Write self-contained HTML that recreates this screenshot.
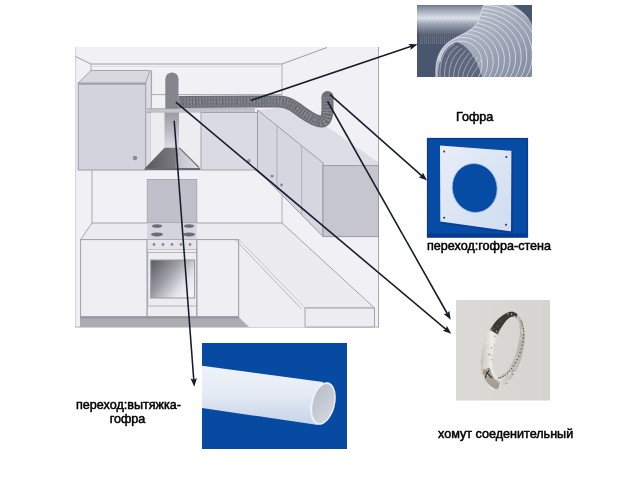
<!DOCTYPE html>
<html><head><meta charset="utf-8">
<style>
html,body{margin:0;padding:0;background:#fff;width:640px;height:480px;overflow:hidden}
svg{position:absolute;left:0;top:0}
.t{position:absolute;font-family:"Liberation Sans",sans-serif;font-size:12.6px;color:#111;white-space:nowrap;line-height:13.5px;-webkit-text-stroke:0.5px #000;color:#000;will-change:transform}
</style></head><body>
<svg width="640" height="480" viewBox="0 0 640 480">
<defs>
  <linearGradient id="hood" x1="0" y1="0" x2="1" y2="0">
    <stop offset="0" stop-color="#58585f"/><stop offset="0.55" stop-color="#7a7a82"/><stop offset="0.62" stop-color="#c4c4cc"/><stop offset="1" stop-color="#e2e2e8"/>
  </linearGradient>
  <linearGradient id="oven" x1="0" y1="0" x2="1" y2="0.7">
    <stop offset="0" stop-color="#58585f"/><stop offset="0.45" stop-color="#9c9ca4"/><stop offset="0.8" stop-color="#e2e2e8"/><stop offset="1" stop-color="#f2f2f6"/>
  </linearGradient>
  <linearGradient id="chim" x1="0" y1="0" x2="0" y2="1">
    <stop offset="0" stop-color="#9a9aa2"/><stop offset="1" stop-color="#dadae0"/>
  </linearGradient>
<linearGradient id="gofU" x1="0" y1="0" x2="0" y2="1">
 <stop offset="0" stop-color="#6a7284"/><stop offset="0.18" stop-color="#a8aebe"/><stop offset="0.33" stop-color="#dadee8"/><stop offset="0.5" stop-color="#8e96a8"/><stop offset="0.75" stop-color="#4a5266"/><stop offset="1" stop-color="#4a546c"/>
</linearGradient>
<linearGradient id="gofB" x1="0" y1="0" x2="1" y2="1">
 <stop offset="0" stop-color="#c2c8d4"/><stop offset="0.5" stop-color="#a4abbc"/><stop offset="1" stop-color="#808a9e"/>
</linearGradient>
<linearGradient id="plateG" x1="0" y1="0" x2="1" y2="1">
 <stop offset="0" stop-color="#e8eef8"/><stop offset="1" stop-color="#cfdcf0"/>
</linearGradient>
<linearGradient id="pipeG" x1="0" y1="0" x2="0" y2="1">
 <stop offset="0" stop-color="#eef2fa"/><stop offset="0.5" stop-color="#e4eaf4"/><stop offset="1" stop-color="#c6d2e8"/>
</linearGradient>
<linearGradient id="clampBg" x1="0" y1="0" x2="1" y2="0">
 <stop offset="0" stop-color="#dcdad6"/><stop offset="1" stop-color="#d6d4d0"/>
</linearGradient>
<linearGradient id="ringG" x1="0" y1="0" x2="1" y2="0">
 <stop offset="0" stop-color="#b4aea6"/><stop offset="0.28" stop-color="#eeece8"/><stop offset="0.55" stop-color="#cdc8c2"/><stop offset="1" stop-color="#aaa49c"/>
</linearGradient>
<clipPath id="clipG"><rect x="417" y="5" width="115" height="72"/></clipPath>
<clipPath id="clipC"><rect x="456" y="300" width="94" height="100.5"/></clipPath>
<clipPath id="clipP"><rect x="202" y="343" width="145" height="106"/></clipPath>
<linearGradient id="pipeIn" x1="0" y1="0" x2="1" y2="1"><stop offset="0" stop-color="#b8bcc6"/><stop offset="1" stop-color="#d4d8e0"/></linearGradient>
<clipPath id="clipBig"><path d="M436,77 C435,60 439,48 452,40 C464,33 474,30 478,22 C481,14 482,8 484,5 L513,5 C522,10 532,20 533,28 L532,77 Z"/></clipPath>

</defs>
<!-- kitchen picture -->
<rect x="75" y="47" width="304" height="280.5" fill="#f1f1f5"/><line x1="378.5" y1="47" x2="378.5" y2="327.5" stroke="#a8a8b0" stroke-width="1"/><line x1="75.7" y1="47" x2="75.7" y2="327.5" stroke="#d0d0d8" stroke-width="1"/><line x1="75" y1="327" x2="379" y2="327" stroke="#b0b0b8" stroke-width="1"/>
<!-- ceiling lines -->
<polyline points="75.5,56.5 91,64 282,64 327,47.5" fill="none" stroke="#9c9ca6" stroke-width="1"/>
<line x1="91" y1="64" x2="91" y2="70.5" stroke="#a8a8b0" stroke-width="1"/>
<line x1="282" y1="64" x2="282" y2="105" stroke="#b0b0b8" stroke-width="1"/>
<!-- back wall soffit outline -->
<line x1="91" y1="66.5" x2="282" y2="66.5" stroke="#d8d8de" stroke-width="0.8"/>
<polyline points="151.6,70.5 151.6,94.6 282,94.6" fill="none" stroke="#a8a8b2" stroke-width="1"/>
<!-- left upper cabinet -->
<polygon points="91,70.5 150,70.5 145.7,83 78.2,83" fill="#d8d8e0"/>
<polygon points="145.7,83 150,70.5 151.3,70.5 151.3,168 145.7,170" fill="#dcdce4"/><line x1="151.3" y1="70.5" x2="151.3" y2="170" stroke="#a0a0aa" stroke-width="1"/>
<rect x="78.2" y="83" width="67.5" height="87" fill="#d3d3de" stroke="#9a9aa4" stroke-width="1"/>
<line x1="78.2" y1="84" x2="145.7" y2="84" stroke="#9c9ca6" stroke-width="1.5"/>
<polyline points="78.2,83 91,70.5 150,70.5 145.7,83" fill="none" stroke="#a4a4ae" stroke-width="1"/>
<circle cx="135" cy="158" r="2.2" fill="#8a8a92"/>
<!-- shelf band -->
<rect x="147" y="108.5" width="108" height="4" fill="#c4c4cc"/><line x1="147" y1="108.7" x2="255" y2="108.7" stroke="#a4a4ac" stroke-width="0.8"/><line x1="147" y1="112.4" x2="255" y2="112.4" stroke="#9a9aa4" stroke-width="0.8"/>
<!-- hood recess bg -->
<rect x="151" y="112.5" width="50" height="57" fill="#ececf1"/>
<!-- chimney upper -->
<path d="M165.3,108.8 L165.3,79 A6.6,6.6 0 0 1 178.5,79 L178.5,108.8 Z" fill="#85858e"/>
<!-- chimney lower -->
<rect x="164.5" y="112.5" width="14.5" height="35.5" fill="url(#chim)"/>
<!-- hood -->
<polygon points="164.5,147.8 179.4,147.8 200,168.5 144.7,168.5" fill="url(#hood)"/>
<rect x="144.7" y="168" width="55.5" height="2.2" fill="#6a6a74"/><line x1="179.4" y1="147.8" x2="199" y2="167.5" stroke="#707078" stroke-width="1.2"/>
<!-- back wall upper cabinets right of hood -->
<rect x="201" y="112.5" width="56.5" height="57.5" fill="#dadae3" stroke="#a4a4ae" stroke-width="1"/>

<circle cx="248.8" cy="161" r="2" fill="#9a9aa4"/>
<!-- right wall upper cabinets sloped -->
<polygon points="257.5,110 300,106 326,126 378,162 378,165.6 323,165.6 323,163" fill="#dcdce5"/>
<polygon points="257.5,110 323,163 323,236.5 257.5,170" fill="#d6d6e0" stroke="#9c9ca6" stroke-width="1"/>

<line x1="277" y1="126" x2="277" y2="190" stroke="#a4a4ae" stroke-width="0.8"/>
<line x1="301.7" y1="146" x2="301.7" y2="215" stroke="#a4a4ae" stroke-width="0.8"/>
<circle cx="272" cy="176" r="1.6" fill="#8a8a94"/>
<circle cx="281.5" cy="185" r="1.4" fill="#8a8a94"/>
<!-- end cabinet -->
<rect x="323" y="165.6" width="55.5" height="71" fill="#c6c6ce" stroke="#9a9aa4" stroke-width="1"/>
<!-- hose -->
<path d="M178.5,102 L278,101.5 C290,101.5 296,108 304,113.5 C312,119 318,122 322,121.5 C327,121 327.5,114 327.5,108 L327.5,97" fill="none" stroke="#6e6e76" stroke-width="12"/><circle cx="327.5" cy="97" r="6" fill="#707078"/>
<path d="M178.5,102 L278,101.5 C290,101.5 296,108 304,113.5 C312,119 318,122 322,121.5 C327,121 327.5,114 327.5,108 L327.5,97" fill="none" stroke="#a6a6ae" stroke-width="9" stroke-dasharray="1.2 1.8" opacity="0.55"/>
<path d="M178.5,102 L278,101.5 C290,101.5 296,108 304,113.5 C312,119 318,122 322,121.5 C327,121 327.5,114 327.5,108 L327.5,97" fill="none" stroke="#4e4e56" stroke-width="6" stroke-dasharray="0.8 2.6 1.4 1.9" opacity="0.35"/>
<path d="M178.5,102 L278,101.5 C290,101.5 296,108 304,113.5 C312,119 318,122 322,121.5 C327,121 327.5,114 327.5,108 L327.5,97" fill="none" stroke="#9c9ca4" stroke-width="2" stroke-dasharray="2 3 1 4" opacity="0.5"/>
<!-- back wall lower area -->
<line x1="92" y1="170" x2="92" y2="223.5" stroke="#a8a8b2" stroke-width="1"/>
<line x1="282" y1="195" x2="282" y2="223" stroke="#b0b0b8" stroke-width="1"/>
<!-- backsplash -->
<rect x="147.2" y="179.5" width="49.6" height="43.5" fill="#c0c0ca" stroke="#a0a0aa" stroke-width="0.8"/>
<!-- countertop -->
<polygon points="92,223 282,223 374.5,308 305,308 238.7,239.6 80.6,239.6" fill="#ebebf0" stroke="#a4a4ae" stroke-width="1"/>
<!-- cooktop -->
<rect x="147.2" y="223" width="49.6" height="16.6" fill="#d4d4dc"/>
<ellipse cx="157" cy="226" rx="5" ry="1.8" fill="#6c6c76"/>
<ellipse cx="157" cy="234.4" rx="6" ry="2" fill="#6c6c76"/>
<ellipse cx="189" cy="226" rx="5" ry="1.8" fill="#6c6c76"/>
<ellipse cx="189" cy="234.4" rx="6" ry="2" fill="#6c6c76"/>
<!-- lower cabinets -->
<rect x="80.6" y="239.6" width="66.6" height="77" fill="#eeeef3" stroke="#a0a0aa" stroke-width="1"/>
<rect x="147.2" y="239.6" width="49.6" height="77" fill="#ececf1" stroke="#9c9ca6" stroke-width="1"/>
<rect x="147.2" y="239.6" width="49.6" height="10" fill="#e4e4ea" stroke="#a8a8b2" stroke-width="0.6"/>
<circle cx="154" cy="244.5" r="1.4" fill="#8a8a94"/><circle cx="163" cy="244.5" r="1.4" fill="#8a8a94"/><circle cx="172" cy="244.5" r="1.4" fill="#8a8a94"/><circle cx="181" cy="244.5" r="1.4" fill="#8a8a94"/><circle cx="190" cy="244.5" r="1.4" fill="#8a8a94"/>
<rect x="147.8" y="252.5" width="50.5" height="53.5" fill="none" stroke="#a8a8b2" stroke-width="0.8"/><rect x="150.7" y="260" width="43.9" height="38" fill="url(#oven)" stroke="#9a9aa4" stroke-width="1"/>
<rect x="197" y="239.6" width="41.7" height="77" fill="#eeeef3" stroke="#a0a0aa" stroke-width="1"/>
<!-- right wall lower cabinets -->
<polygon points="238.7,239.6 305,308 305,327 238.7,327" fill="#eeeef2"/><polyline points="238.7,239.6 238.7,317" fill="none" stroke="#a0a0aa" stroke-width="1"/><polyline points="235.5,240 301.5,309" fill="none" stroke="#a8a8b0" stroke-width="0.8"/>
<polygon points="305,308 374.5,308 374.5,327 305,327" fill="#ececf1" stroke="#a4a4ae" stroke-width="1"/>
<!-- plinth -->
<polygon points="80,317  238.7,317 249,327 80,327" fill="#acacb5"/>
<rect x="80" y="316.8" width="159" height="1.6" fill="#9494a0"/>
<!-- gofra photo -->
<g clip-path="url(#clipG)">
<rect x="417" y="5" width="115" height="72" fill="#4a5570"/>
<rect x="417" y="5" width="90" height="39.5" fill="url(#gofU)"/>
<g stroke="#e4e8f0" stroke-width="0.6" opacity="0.35"><line x1="419" y1="6" x2="420.5" y2="44"/><line x1="421" y1="6" x2="422.5" y2="44"/><line x1="423" y1="6" x2="424.5" y2="44"/><line x1="425" y1="6" x2="426.5" y2="44"/><line x1="427" y1="6" x2="428.5" y2="44"/><line x1="429" y1="6" x2="430.5" y2="44"/><line x1="431" y1="6" x2="432.5" y2="44"/><line x1="433" y1="6" x2="434.5" y2="44"/><line x1="435" y1="6" x2="436.5" y2="44"/><line x1="437" y1="6" x2="438.5" y2="44"/><line x1="439" y1="6" x2="440.5" y2="44"/><line x1="441" y1="6" x2="442.5" y2="44"/><line x1="443" y1="6" x2="444.5" y2="44"/><line x1="445" y1="6" x2="446.5" y2="44"/><line x1="447" y1="6" x2="448.5" y2="44"/><line x1="449" y1="6" x2="450.5" y2="44"/><line x1="451" y1="6" x2="452.5" y2="44"/><line x1="453" y1="6" x2="454.5" y2="44"/><line x1="455" y1="6" x2="456.5" y2="44"/><line x1="457" y1="6" x2="458.5" y2="44"/><line x1="459" y1="6" x2="460.5" y2="44"/><line x1="461" y1="6" x2="462.5" y2="44"/><line x1="463" y1="6" x2="464.5" y2="44"/><line x1="465" y1="6" x2="466.5" y2="44"/><line x1="467" y1="6" x2="468.5" y2="44"/><line x1="469" y1="6" x2="470.5" y2="44"/><line x1="471" y1="6" x2="472.5" y2="44"/><line x1="473" y1="6" x2="474.5" y2="44"/><line x1="475" y1="6" x2="476.5" y2="44"/><line x1="477" y1="6" x2="478.5" y2="44"/><line x1="479" y1="6" x2="480.5" y2="44"/><line x1="481" y1="6" x2="482.5" y2="44"/><line x1="483" y1="6" x2="484.5" y2="44"/><line x1="485" y1="6" x2="486.5" y2="44"/><line x1="487" y1="6" x2="488.5" y2="44"/><line x1="489" y1="6" x2="490.5" y2="44"/><line x1="491" y1="6" x2="492.5" y2="44"/><line x1="493" y1="6" x2="494.5" y2="44"/><line x1="495" y1="6" x2="496.5" y2="44"/><line x1="497" y1="6" x2="498.5" y2="44"/><line x1="499" y1="6" x2="500.5" y2="44"/></g>
<path d="M436,77 C435,60 439,48 452,40 C464,33 474,30 478,22 C481,14 482,8 484,5 L513,5 C522,10 532,20 533,28 L532,77 Z" fill="url(#gofB)"/>
<path d="M438,77 C438,60 444,47 456,42 C466,44 476,56 482,77 Z" fill="#5e667c"/>
<g clip-path="url(#clipBig)" fill="none" stroke="#eef1f7" stroke-width="0.9" opacity="0.75"><path d="M440.1,62.0 L440.6,58.5 L441.7,55.0 L443.2,51.9 L445.1,49.0 L447.4,46.4 L450.1,44.3 L453.0,42.7 L456.2,41.6 L459.4,41.1 L462.7,41.1 L465.9,41.6 L469.0,42.8 L472.0,44.4 L474.6,46.5 L476.9,49.0 L478.9,51.9 L480.4,55.1 L481.4,58.5 L481.9,62.1 L481.9,65.7 L481.5,69.2 L480.5,72.6 L479.0,75.9 L477.1,78.8"/><path d="M438.9,60.8 L439.5,56.8 L440.7,53.0 L442.5,49.5 L444.7,46.3 L447.4,43.4 L450.5,41.1 L453.9,39.3 L457.6,38.1 L461.3,37.5 L465.1,37.5 L468.9,38.1 L472.5,39.3 L475.9,41.2 L479.0,43.5 L481.7,46.3 L484.0,49.6 L485.7,53.1 L486.9,56.9 L487.5,60.9 L487.5,64.9 L487.0,68.8 L485.8,72.6 L484.1,76.2 L481.9,79.5"/><path d="M437.7,59.5 L438.4,55.2 L439.8,51.0 L441.8,47.1 L444.4,43.6 L447.5,40.5 L451.0,37.9 L454.9,35.9 L459.0,34.6 L463.3,33.9 L467.6,33.9 L471.9,34.6 L476.0,35.9 L479.9,37.9 L483.4,40.5 L486.5,43.6 L489.1,47.2 L491.0,51.1 L492.4,55.3 L493.1,59.6 L493.1,64.0 L492.5,68.4 L491.2,72.6 L489.2,76.5 L486.7,80.1"/><path d="M436.5,58.3 L437.3,53.6 L438.9,49.0 L441.1,44.7 L444.0,40.9 L447.5,37.5 L451.4,34.7 L455.8,32.5 L460.4,31.0 L465.2,30.3 L470.1,30.3 L474.9,31.1 L479.5,32.5 L483.9,34.7 L487.8,37.6 L491.3,40.9 L494.2,44.8 L496.4,49.1 L497.9,53.7 L498.7,58.4 L498.7,63.2 L498.0,68.0 L496.5,72.6 L494.3,76.9 L491.5,80.8"/><path d="M435.3,57.1 L436.2,51.9 L437.9,47.0 L440.4,42.4 L443.6,38.2 L447.5,34.5 L451.9,31.4 L456.7,29.1 L461.8,27.5 L467.2,26.7 L472.6,26.7 L477.9,27.5 L483.0,29.1 L487.9,31.5 L492.2,34.6 L496.1,38.3 L499.2,42.5 L501.7,47.1 L503.4,52.1 L504.3,57.2 L504.3,62.4 L503.5,67.6 L501.9,72.6 L499.4,77.2 L496.3,81.5"/><path d="M434.1,55.9 L435.1,50.3 L437.0,45.0 L439.7,40.0 L443.2,35.5 L447.5,31.5 L452.3,28.2 L457.6,25.7 L463.2,24.0 L469.1,23.1 L475.0,23.1 L480.9,24.0 L486.5,25.7 L491.8,28.3 L496.6,31.6 L500.8,35.6 L504.3,40.1 L507.1,45.1 L508.9,50.4 L509.9,56.0 L509.9,61.6 L509.0,67.2 L507.2,72.5 L504.6,77.6 L501.1,82.1"/><path d="M433.0,54.6 L434.0,48.7 L436.1,43.0 L439.0,37.6 L442.9,32.8 L447.5,28.5 L452.7,25.0 L458.5,22.3 L464.7,20.4 L471.0,19.5 L477.5,19.5 L483.9,20.5 L490.0,22.3 L495.8,25.1 L501.0,28.6 L505.6,32.9 L509.4,37.7 L512.4,43.1 L514.4,48.8 L515.5,54.8 L515.5,60.8 L514.5,66.8 L512.6,72.5 L509.7,77.9 L505.9,82.8"/><path d="M431.8,53.4 L432.9,47.1 L435.1,41.0 L438.4,35.2 L442.5,30.1 L447.5,25.5 L453.2,21.8 L459.4,18.9 L466.1,16.9 L473.0,15.9 L480.0,15.9 L486.9,16.9 L493.5,18.9 L499.8,21.9 L505.4,25.6 L510.4,30.2 L514.5,35.4 L517.7,41.1 L519.9,47.2 L521.0,53.6 L521.1,60.0 L520.0,66.4 L517.9,72.5 L514.8,78.2 L510.7,83.5"/><path d="M430.6,52.2 L431.8,45.4 L434.2,38.9 L437.7,32.9 L442.1,27.4 L447.5,22.5 L453.6,18.6 L460.3,15.5 L467.5,13.4 L474.9,12.3 L482.5,12.3 L489.9,13.4 L497.0,15.5 L503.8,18.6 L509.9,22.7 L515.2,27.5 L519.6,33.0 L523.1,39.1 L525.4,45.6 L526.6,52.3 L526.7,59.2 L525.5,65.9 L523.3,72.5 L519.9,78.6 L515.5,84.2"/><path d="M429.4,51.0 L430.7,43.8 L433.3,36.9 L437.0,30.5 L441.8,24.7 L447.5,19.6 L454.0,15.3 L461.2,12.1 L468.9,9.9 L476.9,8.7 L484.9,8.7 L492.9,9.9 L500.5,12.1 L507.7,15.4 L514.3,19.7 L520.0,24.8 L524.7,30.6 L528.4,37.1 L530.9,44.0 L532.2,51.1 L532.3,58.4 L531.1,65.5 L528.6,72.4 L525.0,78.9 L520.3,84.8"/><path d="M428.2,49.7 L429.6,42.2 L432.3,34.9 L436.3,28.1 L441.4,22.0 L447.5,16.6 L454.5,12.1 L462.1,8.7 L470.3,6.3 L478.8,5.1 L487.4,5.2 L495.9,6.4 L504.0,8.7 L511.7,12.2 L518.7,16.7 L524.7,22.1 L529.8,28.3 L533.7,35.1 L536.4,42.4 L537.8,49.9 L537.9,57.6 L536.6,65.1 L534.0,72.4 L530.1,79.3 L525.1,85.5"/><path d="M427.0,48.5 L428.5,40.6 L431.4,32.9 L435.6,25.8 L441.0,19.3 L447.5,13.6 L454.9,8.9 L463.0,5.3 L471.7,2.8 L480.7,1.6 L489.9,1.6 L498.9,2.8 L507.5,5.3 L515.7,9.0 L523.1,13.7 L529.5,19.4 L534.9,25.9 L539.1,33.1 L541.9,40.7 L543.4,48.7 L543.4,56.7 L542.1,64.7 L539.3,72.4 L535.2,79.6 L529.9,86.2"/><path d="M425.8,47.3 L427.4,38.9 L430.5,30.9 L434.9,23.4 L440.6,16.6 L447.5,10.6 L455.3,5.7 L464.0,1.9 L473.1,-0.7 L482.7,-2.0 L492.3,-2.0 L501.9,-0.7 L511.0,1.9 L519.7,5.8 L527.5,10.7 L534.3,16.7 L540.0,23.5 L544.4,31.1 L547.4,39.1 L549.0,47.5 L549.0,55.9 L547.6,64.3 L544.7,72.4 L540.3,79.9 L534.7,86.8"/><path d="M424.6,46.0 L426.3,37.3 L429.5,28.9 L434.2,21.0 L440.3,13.9 L447.5,7.6 L455.8,2.4 L464.9,-1.6 L474.6,-4.3 L484.6,-5.6 L494.8,-5.6 L504.9,-4.2 L514.6,-1.5 L523.6,2.5 L531.9,7.8 L539.1,14.0 L545.1,21.2 L549.7,29.1 L552.9,37.5 L554.6,46.3 L554.6,55.1 L553.1,63.9 L550.0,72.4 L545.5,80.3 L539.5,87.5"/><path d="M423.5,44.8 L425.2,35.7 L428.6,26.9 L433.5,18.6 L439.9,11.2 L447.5,4.6 L456.2,-0.8 L465.8,-5.0 L476.0,-7.8 L486.6,-9.2 L497.3,-9.2 L507.9,-7.7 L518.1,-4.9 L527.6,-0.7 L536.3,4.8 L543.9,11.3 L550.2,18.8 L555.1,27.1 L558.4,35.9 L560.2,45.0 L560.2,54.3 L558.6,63.5 L555.4,72.3 L550.6,80.6 L544.4,88.2"/><path d="M422.3,43.6 L424.1,34.0 L427.7,24.9 L432.9,16.3 L439.5,8.5 L447.5,1.7 L456.6,-4.0 L466.7,-8.4 L477.4,-11.3 L488.5,-12.8 L499.8,-12.8 L510.9,-11.3 L521.6,-8.3 L531.6,-3.9 L540.7,1.8 L548.6,8.6 L555.3,16.5 L560.4,25.1 L563.9,34.3 L565.7,43.8 L565.8,53.5 L564.1,63.1 L560.7,72.3 L555.7,81.0 L549.2,88.9"/></g>
<g fill="none" stroke="#e8ecf4" stroke-width="0.8" opacity="0.6"><path d="M440.0,77 C439.5,62.0 443.0,50.0 454.0,44.0"/><path d="M444.5,77 C444.3,63.5 448.0,52.5 457.9,46.2"/><path d="M449.0,77 C449.1,65.0 453.0,55.0 461.8,48.4"/><path d="M453.5,77 C453.9,66.5 458.0,57.5 465.7,50.6"/><path d="M458.0,77 C458.7,68.0 463.0,60.0 469.6,52.8"/><path d="M462.5,77 C463.5,69.5 468.0,62.5 473.5,55.0"/><path d="M467.0,77 C468.3,71.0 473.0,65.0 477.4,57.2"/><path d="M471.5,77 C473.1,72.5 478.0,67.5 481.3,59.4"/></g>
<path d="M436,77 C435,60 439,48 452,40 C464,33 474,30 478,22 C481,14 482,8 484,5" fill="none" stroke="#dce0ea" stroke-width="1.2" opacity="0.7"/>
</g>
<!-- plate photo -->
<rect x="427" y="138" width="101" height="99.5" fill="#064ba4"/>
<rect x="427.5" y="138.5" width="100" height="98.5" fill="none" stroke="#093a8c" stroke-width="1.2"/>
<polygon points="441,147 513,152.5 513,233.5 441.5,223.5" fill="#08388a" opacity="0.6"/>
<rect x="427" y="233.5" width="101" height="3" fill="#083a8c"/>
<polygon points="440,145.5 511.4,150.8 511,231.3 440.3,221.4" fill="url(#plateG)"/>
<ellipse cx="474.7" cy="188" rx="22.4" ry="24.6" transform="rotate(-12 474.7 188)" fill="#064ba4" stroke="#a8bede" stroke-width="0.8"/>
<circle cx="444.2" cy="151.4" r="1" fill="#333"/><circle cx="506.4" cy="156.9" r="1" fill="#333"/><circle cx="444.2" cy="217.7" r="1" fill="#333"/><circle cx="506" cy="224.7" r="1" fill="#333"/>
<!-- pipe photo -->
<rect x="202" y="343" width="145" height="106" fill="#064aa2"/>
<polygon points="202,365.8 323,382 318,425 202,408" fill="url(#pipeG)"/>
<ellipse cx="323" cy="403.5" rx="12" ry="21.8" transform="rotate(14 323 403.5)" fill="#eef2f8"/>
<ellipse cx="323.3" cy="403.6" rx="10.3" ry="20" transform="rotate(14 323.3 403.6)" fill="url(#pipeIn)"/>
<!-- clamp photo -->
<rect x="456" y="300" width="94" height="100.5" fill="url(#clampBg)"/>
<defs><clipPath id="ringClip"><path fill-rule="evenodd" clip-rule="evenodd" d="M513.10,311.86 A20,40 15 1 0 492.40,389.14 A20,40 15 1 0 513.10,311.86 Z M514.49,316.79 A11.5,30.8 16 1 1 497.51,376.01 A11.5,30.8 16 1 1 514.49,316.79 Z"/></clipPath></defs>
<g clip-path="url(#ringClip)">
<rect x="476" y="308" width="56" height="84" fill="url(#ringG)"/>
<path d="M490,330 C496,318 506,311 518,310 L517,316 C509,318 502,325 497,334 Z" fill="#3e3834"/><path d="M497,334 C502,325 509,318 517,316 L516,320 C508,322 503,328 499,337 Z" fill="#6e6862"/>
<path d="M482,370 C484,380 490,388 498,390 L500,382 C495,380 492,376 490,368 Z" fill="#a8a096"/><path d="M486,372 l6,6 M489,370 l-4,8" stroke="#3a3430" stroke-width="1.2"/>
<g id="speck"><rect x="490.4" y="354.6" width="1" height="1" fill="#7a7268"/><rect x="525.6" y="348.9" width="1" height="1" fill="#5e5850"/><rect x="509.5" y="384.5" width="1" height="1" fill="#ffffff"/><rect x="491.5" y="329.2" width="1" height="1" fill="#ffffff"/><rect x="506.1" y="355.1" width="1" height="1" fill="#ffffff"/><rect x="511.2" y="322.4" width="1" height="1" fill="#f6f4f0"/><rect x="523.1" y="352.9" width="1" height="1" fill="#5e5850"/><rect x="512.9" y="315.3" width="1" height="1" fill="#5e5850"/><rect x="493.7" y="312.5" width="1" height="1" fill="#7a7268"/><rect x="502.6" y="368.9" width="1" height="1" fill="#ffffff"/><rect x="515.1" y="385.5" width="1" height="1" fill="#ffffff"/><rect x="515.9" y="357.3" width="1" height="1" fill="#f6f4f0"/><rect x="523.7" y="318.0" width="1" height="1" fill="#f6f4f0"/><rect x="503.7" y="331.2" width="1" height="1" fill="#ffffff"/><rect x="518.5" y="380.1" width="1" height="1" fill="#ffffff"/><rect x="504.4" y="341.6" width="1" height="1" fill="#7a7268"/><rect x="505.8" y="343.4" width="1" height="1" fill="#f6f4f0"/><rect x="525.0" y="365.9" width="1" height="1" fill="#5e5850"/><rect x="522.5" y="391.3" width="1" height="1" fill="#f6f4f0"/><rect x="514.3" y="336.8" width="1" height="1" fill="#5e5850"/><rect x="515.1" y="327.3" width="1" height="1" fill="#7a7268"/><rect x="492.8" y="315.2" width="1" height="1" fill="#ffffff"/><rect x="482.6" y="375.6" width="1" height="1" fill="#ffffff"/><rect x="524.6" y="311.7" width="1" height="1" fill="#ffffff"/><rect x="518.0" y="381.6" width="1" height="1" fill="#5e5850"/><rect x="509.5" y="372.5" width="1" height="1" fill="#ffffff"/><rect x="515.4" y="337.1" width="1" height="1" fill="#7a7268"/><rect x="504.3" y="391.9" width="1" height="1" fill="#7a7268"/><rect x="478.4" y="318.9" width="1" height="1" fill="#5e5850"/><rect x="527.3" y="389.7" width="1" height="1" fill="#7a7268"/><rect x="509.7" y="322.8" width="1" height="1" fill="#5e5850"/><rect x="529.0" y="337.9" width="1" height="1" fill="#7a7268"/><rect x="527.9" y="383.5" width="1" height="1" fill="#ffffff"/><rect x="497.6" y="381.3" width="1" height="1" fill="#ffffff"/><rect x="511.5" y="358.8" width="1" height="1" fill="#5e5850"/><rect x="510.2" y="387.1" width="1" height="1" fill="#7a7268"/><rect x="500.4" y="369.1" width="1" height="1" fill="#f6f4f0"/><rect x="526.7" y="345.9" width="1" height="1" fill="#7a7268"/><rect x="505.1" y="355.0" width="1" height="1" fill="#5e5850"/><rect x="519.0" y="391.0" width="1" height="1" fill="#7a7268"/><rect x="479.0" y="360.5" width="1" height="1" fill="#f6f4f0"/><rect x="481.1" y="361.4" width="1" height="1" fill="#ffffff"/><rect x="496.4" y="385.2" width="1" height="1" fill="#7a7268"/><rect x="516.4" y="311.8" width="1" height="1" fill="#5e5850"/><rect x="527.7" y="311.7" width="1" height="1" fill="#7a7268"/><rect x="491.1" y="347.4" width="1" height="1" fill="#7a7268"/><rect x="487.2" y="325.2" width="1" height="1" fill="#7a7268"/><rect x="521.9" y="331.7" width="1" height="1" fill="#ffffff"/><rect x="483.5" y="376.7" width="1" height="1" fill="#f6f4f0"/><rect x="494.1" y="328.2" width="1" height="1" fill="#7a7268"/><rect x="490.4" y="325.4" width="1" height="1" fill="#ffffff"/><rect x="511.8" y="318.0" width="1" height="1" fill="#7a7268"/><rect x="527.4" y="365.3" width="1" height="1" fill="#f6f4f0"/><rect x="500.8" y="380.2" width="1" height="1" fill="#f6f4f0"/><rect x="482.2" y="370.8" width="1" height="1" fill="#f6f4f0"/><rect x="524.0" y="347.0" width="1" height="1" fill="#f6f4f0"/><rect x="518.9" y="312.8" width="1" height="1" fill="#f6f4f0"/><rect x="494.4" y="378.6" width="1" height="1" fill="#f6f4f0"/><rect x="522.9" y="337.9" width="1" height="1" fill="#5e5850"/><rect x="519.9" y="338.3" width="1" height="1" fill="#f6f4f0"/><rect x="499.9" y="352.5" width="1" height="1" fill="#7a7268"/><rect x="502.2" y="362.0" width="1" height="1" fill="#7a7268"/><rect x="499.8" y="343.6" width="1" height="1" fill="#ffffff"/><rect x="486.1" y="310.4" width="1" height="1" fill="#ffffff"/><rect x="507.1" y="390.8" width="1" height="1" fill="#f6f4f0"/><rect x="479.7" y="347.4" width="1" height="1" fill="#7a7268"/><rect x="506.3" y="383.0" width="1" height="1" fill="#5e5850"/><rect x="522.6" y="389.6" width="1" height="1" fill="#5e5850"/><rect x="520.1" y="313.7" width="1" height="1" fill="#f6f4f0"/><rect x="524.6" y="383.8" width="1" height="1" fill="#5e5850"/><rect x="478.7" y="371.1" width="1" height="1" fill="#f6f4f0"/><rect x="504.2" y="329.6" width="1" height="1" fill="#5e5850"/><rect x="505.3" y="343.9" width="1" height="1" fill="#5e5850"/><rect x="495.8" y="330.7" width="1" height="1" fill="#ffffff"/><rect x="520.2" y="315.0" width="1" height="1" fill="#f6f4f0"/><rect x="488.3" y="353.8" width="1" height="1" fill="#5e5850"/><rect x="486.9" y="374.9" width="1" height="1" fill="#f6f4f0"/><rect x="520.8" y="310.6" width="1" height="1" fill="#ffffff"/><rect x="480.6" y="332.3" width="1" height="1" fill="#7a7268"/><rect x="510.1" y="352.6" width="1" height="1" fill="#5e5850"/><rect x="502.6" y="373.7" width="1" height="1" fill="#5e5850"/><rect x="522.6" y="373.6" width="1" height="1" fill="#5e5850"/><rect x="484.5" y="315.6" width="1" height="1" fill="#5e5850"/><rect x="522.4" y="317.1" width="1" height="1" fill="#ffffff"/><rect x="494.4" y="335.8" width="1" height="1" fill="#7a7268"/><rect x="498.1" y="342.0" width="1" height="1" fill="#7a7268"/><rect x="496.8" y="325.7" width="1" height="1" fill="#7a7268"/><rect x="500.3" y="320.5" width="1" height="1" fill="#5e5850"/><rect x="515.2" y="341.2" width="1" height="1" fill="#5e5850"/><rect x="507.5" y="313.5" width="1" height="1" fill="#ffffff"/><rect x="509.4" y="374.2" width="1" height="1" fill="#ffffff"/><rect x="511.1" y="313.6" width="1" height="1" fill="#ffffff"/><rect x="480.8" y="361.5" width="1" height="1" fill="#7a7268"/><rect x="499.9" y="366.9" width="1" height="1" fill="#ffffff"/><rect x="478.9" y="327.9" width="1" height="1" fill="#7a7268"/><rect x="514.1" y="315.9" width="1" height="1" fill="#ffffff"/><rect x="489.7" y="320.7" width="1" height="1" fill="#5e5850"/><rect x="526.7" y="340.7" width="1" height="1" fill="#7a7268"/><rect x="484.3" y="366.6" width="1" height="1" fill="#ffffff"/><rect x="512.7" y="370.2" width="1" height="1" fill="#5e5850"/><rect x="520.2" y="368.8" width="1" height="1" fill="#ffffff"/><rect x="485.5" y="373.5" width="1" height="1" fill="#5e5850"/><rect x="505.4" y="356.3" width="1" height="1" fill="#ffffff"/><rect x="487.3" y="311.9" width="1" height="1" fill="#5e5850"/><rect x="479.3" y="319.4" width="1" height="1" fill="#ffffff"/><rect x="521.5" y="388.1" width="1" height="1" fill="#7a7268"/><rect x="519.5" y="313.0" width="1" height="1" fill="#f6f4f0"/><rect x="483.6" y="371.4" width="1" height="1" fill="#5e5850"/><rect x="506.6" y="381.3" width="1" height="1" fill="#f6f4f0"/><rect x="521.1" y="329.9" width="1" height="1" fill="#f6f4f0"/><rect x="511.6" y="347.2" width="1" height="1" fill="#ffffff"/><rect x="491.2" y="359.2" width="1" height="1" fill="#7a7268"/><rect x="506.9" y="389.2" width="1" height="1" fill="#ffffff"/><rect x="504.0" y="389.8" width="1" height="1" fill="#ffffff"/><rect x="521.9" y="389.3" width="1" height="1" fill="#ffffff"/><rect x="513.9" y="372.0" width="1" height="1" fill="#ffffff"/><rect x="486.1" y="342.9" width="1" height="1" fill="#f6f4f0"/><rect x="486.5" y="350.8" width="1" height="1" fill="#ffffff"/><rect x="525.7" y="352.4" width="1" height="1" fill="#ffffff"/><rect x="508.5" y="380.4" width="1" height="1" fill="#f6f4f0"/><rect x="491.9" y="326.3" width="1" height="1" fill="#7a7268"/><rect x="526.6" y="379.8" width="1" height="1" fill="#7a7268"/><rect x="512.9" y="380.1" width="1" height="1" fill="#7a7268"/><rect x="524.2" y="335.2" width="1" height="1" fill="#7a7268"/><rect x="502.9" y="341.4" width="1" height="1" fill="#f6f4f0"/><rect x="507.6" y="329.6" width="1" height="1" fill="#ffffff"/><rect x="518.3" y="321.8" width="1" height="1" fill="#ffffff"/><rect x="514.5" y="326.9" width="1" height="1" fill="#5e5850"/><rect x="503.0" y="369.1" width="1" height="1" fill="#ffffff"/><rect x="518.7" y="382.3" width="1" height="1" fill="#5e5850"/><rect x="502.3" y="328.8" width="1" height="1" fill="#f6f4f0"/><rect x="511.7" y="373.7" width="1" height="1" fill="#5e5850"/><rect x="527.9" y="380.0" width="1" height="1" fill="#f6f4f0"/><rect x="524.3" y="373.6" width="1" height="1" fill="#f6f4f0"/><rect x="487.7" y="367.8" width="1" height="1" fill="#5e5850"/><rect x="524.8" y="330.9" width="1" height="1" fill="#5e5850"/><rect x="494.3" y="344.7" width="1" height="1" fill="#5e5850"/><rect x="484.1" y="331.7" width="1" height="1" fill="#7a7268"/><rect x="479.9" y="347.1" width="1" height="1" fill="#7a7268"/><rect x="478.4" y="337.5" width="1" height="1" fill="#ffffff"/></g>
<g fill="#6a645c"><circle cx="521.3" cy="321.3" r="0.8"/><circle cx="522.3" cy="323.4" r="0.8"/><circle cx="523.0" cy="325.8" r="0.8"/><circle cx="523.6" cy="328.5" r="0.8"/><circle cx="523.8" cy="331.5" r="0.8"/><circle cx="523.8" cy="334.8" r="0.8"/><circle cx="523.6" cy="338.2" r="0.8"/><circle cx="523.0" cy="341.7" r="0.8"/><circle cx="522.3" cy="345.3" r="0.8"/><circle cx="521.3" cy="349.0" r="0.8"/><circle cx="520.1" cy="352.6" r="0.8"/><circle cx="518.7" cy="356.2" r="0.8"/><circle cx="517.1" cy="359.6" r="0.8"/><circle cx="515.3" cy="362.9" r="0.8"/><circle cx="513.4" cy="365.9" r="0.8"/><circle cx="511.5" cy="368.7" r="0.8"/><circle cx="509.4" cy="371.2" r="0.8"/><circle cx="507.3" cy="373.3" r="0.8"/><circle cx="505.1" cy="375.1" r="0.8"/><circle cx="503.0" cy="376.4" r="0.8"/><circle cx="500.9" cy="377.4" r="0.8"/><circle cx="498.9" cy="377.9" r="0.8"/></g>
</g>
<line x1="250.8" y1="100.4" x2="411.3" y2="46.3" stroke="#161c2c" stroke-width="1.55"/>
<polygon points="417.5,44.2 410.5,49.9 410.9,46.4 408.4,43.9" fill="#161c2c"/>
<line x1="330" y1="94.6" x2="422.2" y2="176.1" stroke="#161c2c" stroke-width="1.55"/>
<polygon points="427.1,180.4 418.6,177.2 421.9,175.8 422.8,172.4" fill="#161c2c"/>
<line x1="327.5" y1="101.25" x2="447.5" y2="314.0" stroke="#161c2c" stroke-width="1.55"/>
<polygon points="450.7,319.7 443.7,313.9 447.3,313.6 449.3,310.7" fill="#161c2c"/>
<line x1="175.8" y1="102.1" x2="446.3" y2="329.6" stroke="#161c2c" stroke-width="1.55"/>
<polygon points="451.25,333.75 442.7,330.7 445.9,329.2 446.8,325.8" fill="#161c2c"/>
<line x1="174.2" y1="120.8" x2="193.8" y2="380.2" stroke="#161c2c" stroke-width="1.55"/>
<polygon points="194.3,386.7 190.5,378.5 193.8,379.7 196.9,378.0" fill="#161c2c"/>
</svg>
<div class="t" style="left:456px;top:110.5px">Гофра</div>
<div class="t" style="left:427px;top:240px">переход:гофра-стена</div>
<div class="t" style="left:76px;top:399px;width:103px;text-align:center">переход:вытяжка-<br>гофра</div>
<div class="t" style="left:438px;top:428px">хомут соеденительный</div>
</body></html>
